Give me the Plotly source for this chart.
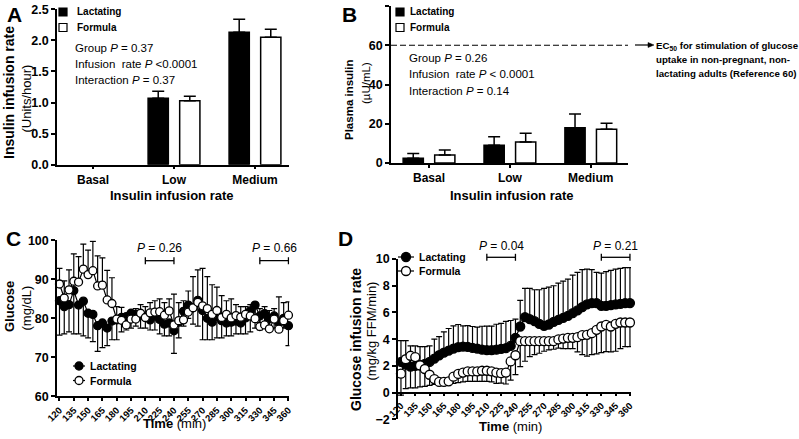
import plotly.graph_objects as go

W, H = 799, 439
FONT = "Liberation Sans, Arial, sans-serif"


def fx(p):
    return p / W


def fy(p):
    return 1 - p / H


# ---------------- data ----------------
rate_categories = ["Basal", "Low", "Medium"]
rate_pos = [0, 1, 2]

# Panel A: insulin infusion rate (Units/hour); no insulin is infused at basal
a_lact = [None, 1.07, 2.13]
a_lact_sd = [None, 0.11, 0.21]
a_form = [None, 1.03, 2.05]
a_form_sd = [None, 0.07, 0.13]

# Panel B: plasma insulin (uU/mL)
b_lact = [2.4, 9.0, 18.0]
b_lact_sd = [2.5, 4.4, 7.0]
b_form = [4.1, 10.7, 17.2]
b_form_sd = [2.5, 4.4, 3.0]
ec50 = 60

# time points (min)
times = [120, 125, 130, 135, 140, 145, 150, 155, 160, 165, 170, 175, 180, 185, 190, 195,
         200, 205, 210, 215, 220, 225, 230, 235, 240, 245, 250, 255, 260, 265, 270, 275,
         280, 285, 290, 295, 300, 305, 310, 315, 320, 325, 330, 335, 340, 345, 350, 355, 360]
time_ticks = [120, 135, 150, 165, 180, 195, 210, 225, 240, 255, 270, 285, 300, 315, 330, 345, 360]

# Panel C: glucose (mg/dL)
c_lact = [84.5, 83.0, 83.5, 87.1, 83.4, 84.4, 81.3, 81.0, 78.1, 78.8, 77.5, 79.3, 79.6, 80.2, 80.4, 81.3,
          81.0, 80.8, 80.2, 79.6, 80.6, 79.7, 78.5, 78.8, 76.8, 79.0, 81.8, 83.4, 82.7, 84.6, 82.0, 80.0,
          79.0, 80.5, 79.4, 78.8, 79.0, 79.3, 78.8, 80.1, 81.9, 83.4, 80.6, 81.2, 79.8, 80.6, 78.8, 80.0, 78.1]
c_lact_sd = [8.8, 7.0, 7.0, 11.1, 7.4, 8.9, 6.3, 7.0, 6.6, 6.3, 4.5, 4.8, 5.1, 3.7, 3.4, 3.8,
             3.0, 3.3, 2.7, 2.6, 3.6, 3.7, 3.0, 3.3, 5.8, 4.0, 3.8, 3.4, 4.2, 6.6, 7.5, 5.5,
             4.5, 5.5, 4.4, 3.3, 3.5, 3.3, 2.8, 4.1, 5.4, 5.9, 3.6, 3.7, 2.8, 3.1, 2.3, 2.5, 5.1]
c_form = [88.8, 85.2, 87.3, 89.5, 89.3, 92.6, 91.2, 92.2, 88.3, 88.5, 84.7, 83.8, 79.8, 79.5, 78.3, 79.8,
          79.8, 81.3, 80.2, 81.4, 81.6, 81.7, 80.8, 81.9, 78.3, 79.4, 79.6, 81.6, 82.7, 84.1, 83.2, 82.5,
          81.0, 82.0, 80.2, 81.0, 80.1, 80.7, 80.3, 81.0, 80.6, 79.9, 77.9, 78.3, 77.3, 79.8, 77.2, 79.4, 80.8]
c_form_sd = [4.0, 4.4, 5.1, 7.0, 6.5, 6.4, 6.3, 7.5, 7.7, 7.0, 7.6, 6.6, 3.2, 3.3, 2.7, 2.2,
             2.7, 2.2, 2.8, 2.6, 2.9, 3.3, 3.2, 3.1, 7.9, 4.6, 4.9, 5.4, 8.0, 8.3, 9.6, 8.2,
             7.6, 6.0, 5.6, 3.5, 4.9, 2.8, 2.7, 2.0, 2.9, 3.1, 4.6, 4.7, 4.7, 2.7, 8.3, 4.6, 3.4]

# Panel D: glucose infusion rate (mg/kg FFM/min)
d_lact = [2.3, 2.1, 1.95, 2.0, 2.05, 2.15, 2.3, 2.55, 2.8, 3.0, 3.15, 3.3, 3.4, 3.45, 3.42, 3.35,
          3.3, 3.22, 3.18, 3.18, 3.22, 3.28, 3.33, 3.5, 4.1, 4.95, 5.65, 5.5, 5.35, 5.15, 5.0, 5.1,
          5.3, 5.45, 5.6, 5.75, 5.95, 6.15, 6.4, 6.6, 6.7, 6.7, 6.5, 6.5, 6.55, 6.6, 6.65, 6.7, 6.7]
d_lact_sd = [1.6, 1.8, 1.55, 1.5, 1.4, 1.3, 1.2, 1.45, 1.4, 1.55, 1.65, 1.7, 1.7, 1.55, 1.6, 1.6,
             1.6, 1.75, 1.8, 1.8, 1.9, 1.9, 2.0, 1.9, 1.4, 1.95, 2.15, 2.3, 2.35, 2.55, 2.8, 2.8,
             2.7, 2.75, 2.75, 2.75, 2.85, 2.85, 2.8, 2.65, 2.5, 2.3, 2.45, 2.55, 2.6, 2.65, 2.65, 2.65, 2.65]
d_form = [1.42, 2.5, 2.76, 2.66, 2.04, 1.77, 1.34, 1.02, 0.8, 0.8, 0.85, 1.2, 1.4, 1.5, 1.59, 1.59,
          1.59, 1.64, 1.64, 1.6, 1.5, 1.46, 1.5, 2.34, 2.8, 3.85, 3.85, 3.85, 3.85, 3.85, 3.85, 3.85,
          3.85, 3.98, 4.05, 4.1, 4.1, 4.15, 4.3, 4.33, 4.45, 4.7, 4.95, 5.07, 4.95, 5.15, 5.25, 5.25, 5.25]
d_form_sd = [1.6, 2.2, 2.4, 2.3, 1.6, 1.3, 0.8, 0.4, 0.1, 0.1, 0.15, 0.5, 0.65, 0.7, 0.75, 0.75,
             0.75, 0.8, 0.8, 0.8, 0.8, 0.75, 0.85, 1.4, 1.45, 1.9, 1.5, 1.15, 1.0, 0.9, 0.75, 0.65,
             0.6, 0.65, 0.75, 0.8, 0.8, 1.1, 1.45, 1.6, 1.6, 1.8, 1.95, 2.0, 1.9, 2.05, 1.95, 1.8, 1.8]

zeros = [0] * len(times)

fig = go.Figure()


def bar_trace(y, sd, fill, offset, xa, ya, name):
    return go.Bar(
        x=rate_pos, y=y, name=name, width=0.25, offset=offset,
        marker=dict(color=fill, line=dict(color="black", width=1.5)),
        error_y=dict(type="data", symmetric=False, array=sd, arrayminus=[0] * len(sd),
                     color="black", thickness=1.5, width=6),
        xaxis=xa, yaxis=ya, showlegend=False)


fig.add_trace(bar_trace(a_lact, a_lact_sd, "black", -0.32, "x", "y", "Lactating"))
fig.add_trace(bar_trace(a_form, a_form_sd, "white", 0.07, "x", "y", "Formula"))
fig.add_trace(bar_trace(b_lact, b_lact_sd, "black", -0.32, "x2", "y2", "Lactating"))
fig.add_trace(bar_trace(b_form, b_form_sd, "white", 0.07, "x2", "y2", "Formula"))


def line_trace(y, sd, fill, up, xa, ya, size, name):
    err = dict(type="data", symmetric=False, color="black", thickness=1.2, width=3)
    if up:
        err.update(array=sd, arrayminus=zeros)
    else:
        err.update(array=zeros, arrayminus=sd)
    return go.Scatter(
        x=times, y=y, name=name, mode="lines+markers",
        line=dict(color="black", width=1.2),
        marker=dict(symbol="circle", size=size, color=fill, line=dict(color="black", width=1.3)),
        error_y=err, xaxis=xa, yaxis=ya, showlegend=False, cliponaxis=False)


fig.add_trace(line_trace(c_lact, c_lact_sd, "black", False, "x3", "y3", 8, "Lactating"))
fig.add_trace(line_trace(c_form, c_form_sd, "white", True, "x3", "y3", 8, "Formula"))
fig.add_trace(line_trace(d_lact, d_lact_sd, "black", True, "x4", "y4", 9, "Lactating"))
fig.add_trace(line_trace(d_form, d_form_sd, "white", False, "x4", "y4", 9, "Formula"))

ax = dict(showline=True, linecolor="black", linewidth=1.5, ticks="outside", tickcolor="black",
          ticklen=4, tickwidth=1.5, showgrid=False, zeroline=False, fixedrange=True,
          automargin=False,
          tickfont=dict(family=FONT, size=12.5, color="black", weight="bold"))
cat_font = dict(family=FONT, size=12, color="black", weight="bold")
rot_font = dict(family=FONT, size=9.5, color="black", weight="bold")

fig.update_layout(
    width=W, height=H, autosize=False,
    margin=dict(l=0, r=0, t=0, b=0, pad=0),
    paper_bgcolor="white", plot_bgcolor="white",
    barmode="overlay",
    font=dict(family=FONT, color="black"),
    xaxis=dict(ax, domain=[fx(57), fx(289)], range=[-0.445, 2.42], anchor="y", ticklen=3,
               tickvals=rate_pos, ticktext=rate_categories, tickfont=cat_font),
    yaxis=dict(ax, domain=[fy(164.7), fy(9.3)], range=[0, 2.5], anchor="x",
               tickvals=[0, 0.5, 1.0, 1.5, 2.0, 2.5], tickformat=".1f"),
    xaxis2=dict(ax, domain=[fx(391), fx(628)], range=[-0.47, 2.46], anchor="y2", ticklen=3,
                tickvals=rate_pos, ticktext=rate_categories, tickfont=cat_font),
    yaxis2=dict(ax, domain=[fy(163), fy(6)], range=[0, 80], anchor="x2",
                tickvals=[0, 20, 40, 60, 80]),
    xaxis3=dict(ax, domain=[fx(57), fx(289.4)], range=[117.4, 361], anchor="y3", ticklen=3,
                tickvals=time_ticks, tickangle=-45, tickfont=rot_font),
    yaxis3=dict(ax, domain=[fy(396.3), fy(240.3)], range=[60, 100], anchor="x3",
                tickvals=[60, 70, 80, 90, 100]),
    xaxis4=dict(ax, domain=[fx(398), fx(631)], range=[116.9, 361.1], anchor="free", ticklen=3,
                position=fy(392.7), tickvals=time_ticks, tickangle=-45, tickfont=rot_font),
    yaxis4=dict(ax, domain=[fy(419.4), fy(259)], range=[-2, 10], anchor="x4",
                tickvals=[-2, 0, 2, 4, 6, 8, 10]),
)

annotations = []
shapes = []


def ann(text, x, y, size, bold=False, angle=0, xanchor="center", yanchor="middle"):
    annotations.append(dict(
        text=text, x=fx(x), y=fy(y), xref="paper", yref="paper", showarrow=False,
        textangle=angle, xanchor=xanchor, yanchor=yanchor,
        font=dict(family=FONT, size=size, color="black", weight="bold" if bold else "normal")))


# panel letters
ann("A", 14, 15, 21, bold=True)
ann("B", 349, 15, 21, bold=True)
ann("C", 13, 238, 21, bold=True)
ann("D", 345, 238, 21, bold=True)

# axis titles
ann("Insulin infusion rate", 9, 93, 14, bold=True, angle=-90)
ann("(Units/hour)", 25.5, 98, 13, angle=-90)
ann("Insulin infusion rate", 172, 195, 13, bold=True)
ann("Plasma insulin", 349, 100, 11.5, bold=True, angle=-90)
ann("(µU/mL)", 366, 83, 11.5, angle=-90)
ann("Insulin infusion rate", 512, 195, 13, bold=True)
ann("Glucose", 9, 307, 13, bold=True, angle=-90)
ann("(mg/dL)", 25.5, 308, 13, angle=-90)
ann("<b>Time</b> (min)", 174, 423, 13)
ann("Glucose infusion rate", 356, 340, 14, bold=True, angle=-90)
ann("(mg/kg FFM/min)", 370.5, 331, 13, angle=-90)
ann("<b>Time</b> (min)", 510, 426, 13)

# statistics text
for i, t in enumerate(["Group <i>P</i> = 0.37", "Infusion  rate <i>P</i> <0.0001",
                       "Interaction <i>P</i> = 0.37"]):
    ann(t, 73, [48, 63.5, 80][i], 11.5, xanchor="left")
for i, t in enumerate(["Group <i>P</i> = 0.26", "Infusion  rate <i>P</i> < 0.0001",
                       "Interaction <i>P</i> = 0.14"]):
    ann(t, 407, [58, 74, 91][i], 11.5, xanchor="left")

# EC50 reference line and note
shapes.append(dict(type="line", xref="x2 domain", yref="y2", x0=0, x1=1, y0=ec50, y1=ec50,
                   line=dict(color="black", width=1.2, dash="6px,3px")))
shapes.append(dict(type="line", xref="paper", yref="paper", x0=fx(635), x1=fx(650),
                   y0=fy(45), y1=fy(45), line=dict(color="black", width=1.2)))
shapes.append(dict(type="path", xref="paper", yref="paper",
                   path="M %f,%f L %f,%f L %f,%f Z" % (fx(654), fy(45), fx(648), fy(42.5),
                                                         fx(648), fy(47.5)),
                   fillcolor="black", line=dict(color="black", width=0.5)))
ann("EC<sub>50</sub> for stimulation of glucose", 654, 46, 9.7, bold=True, xanchor="left")
ann("uptake in non-pregnant, non-", 654, 60, 9.7, bold=True, xanchor="left")
ann("lactating adults (Reference 60)", 654, 73.5, 9.7, bold=True, xanchor="left")

# bar legends (A and B)
for x0, tx in [(59, 75), (396, 408)]:
    shapes.append(dict(type="rect", xref="paper", yref="paper", x0=fx(x0), x1=fx(x0 + 8),
                       y0=fy(16), y1=fy(8), fillcolor="black", line=dict(color="black", width=1.2)))
    shapes.append(dict(type="rect", xref="paper", yref="paper", x0=fx(x0), x1=fx(x0 + 8),
                       y0=fy(31.5), y1=fy(23.5), fillcolor="white", line=dict(color="black", width=1.2)))
    ann("Lactating", tx, 12, 10, bold=True, xanchor="left")
    ann("Formula", tx, 27.5, 10, bold=True, xanchor="left")

# line legends (C and D)
for lx0, lx1, ly1, ly2, tx, r in [(73, 85, 366, 380.5, 88, 4), (398, 414, 257, 271, 417, 4.5)]:
    for ly, fill, label in [(ly1, "black", "Lactating"), (ly2, "white", "Formula")]:
        cx = (lx0 + lx1) / 2
        shapes.append(dict(type="line", xref="paper", yref="paper", x0=fx(lx0), x1=fx(lx1),
                           y0=fy(ly), y1=fy(ly), line=dict(color="black", width=1.2)))
        shapes.append(dict(type="circle", xref="paper", yref="paper", x0=fx(cx - r), x1=fx(cx + r),
                           y0=fy(ly + r), y1=fy(ly - r), fillcolor=fill,
                           line=dict(color="black", width=1.3)))
        ann(label, tx, ly, 10.5, bold=True, xanchor="left")

# comparison brackets
for xa, by, ty, items in [("x3", 260.7, 248.3, [(210, 240, "0.26"), (330, 360, "0.66")]),
                          ("x4", 257.3, 246, [(210, 240, "0.04"), (330, 360, "0.21")])]:
    for t0, t1, p in items:
        shapes.append(dict(type="line", xref=xa, yref="paper", x0=t0, x1=t1, y0=fy(by), y1=fy(by),
                           line=dict(color="black", width=1.3)))
        for tt in (t0, t1):
            shapes.append(dict(type="line", xref=xa, yref="paper", x0=tt, x1=tt,
                               y0=fy(by - 3.5), y1=fy(by + 3.5), line=dict(color="black", width=1.3)))
        annotations.append(dict(text="<i>P</i> = " + p, x=(t0 + t1) / 2, y=fy(ty), xref=xa,
                                yref="paper", showarrow=False, xanchor="center", yanchor="middle",
                                font=dict(family=FONT, size=12, color="black")))

fig.update_layout(annotations=annotations, shapes=shapes)

reset_css = ("}); (function(){var s=document.createElement('style');"
             "s.textContent='html,body{margin:0 !important;padding:0 !important;}';"
             "document.head.appendChild(s);})(); Promise.resolve().then(function(){")

fig.write_html("out.html", config={"displayModeBar": False}, post_script=reset_css)
